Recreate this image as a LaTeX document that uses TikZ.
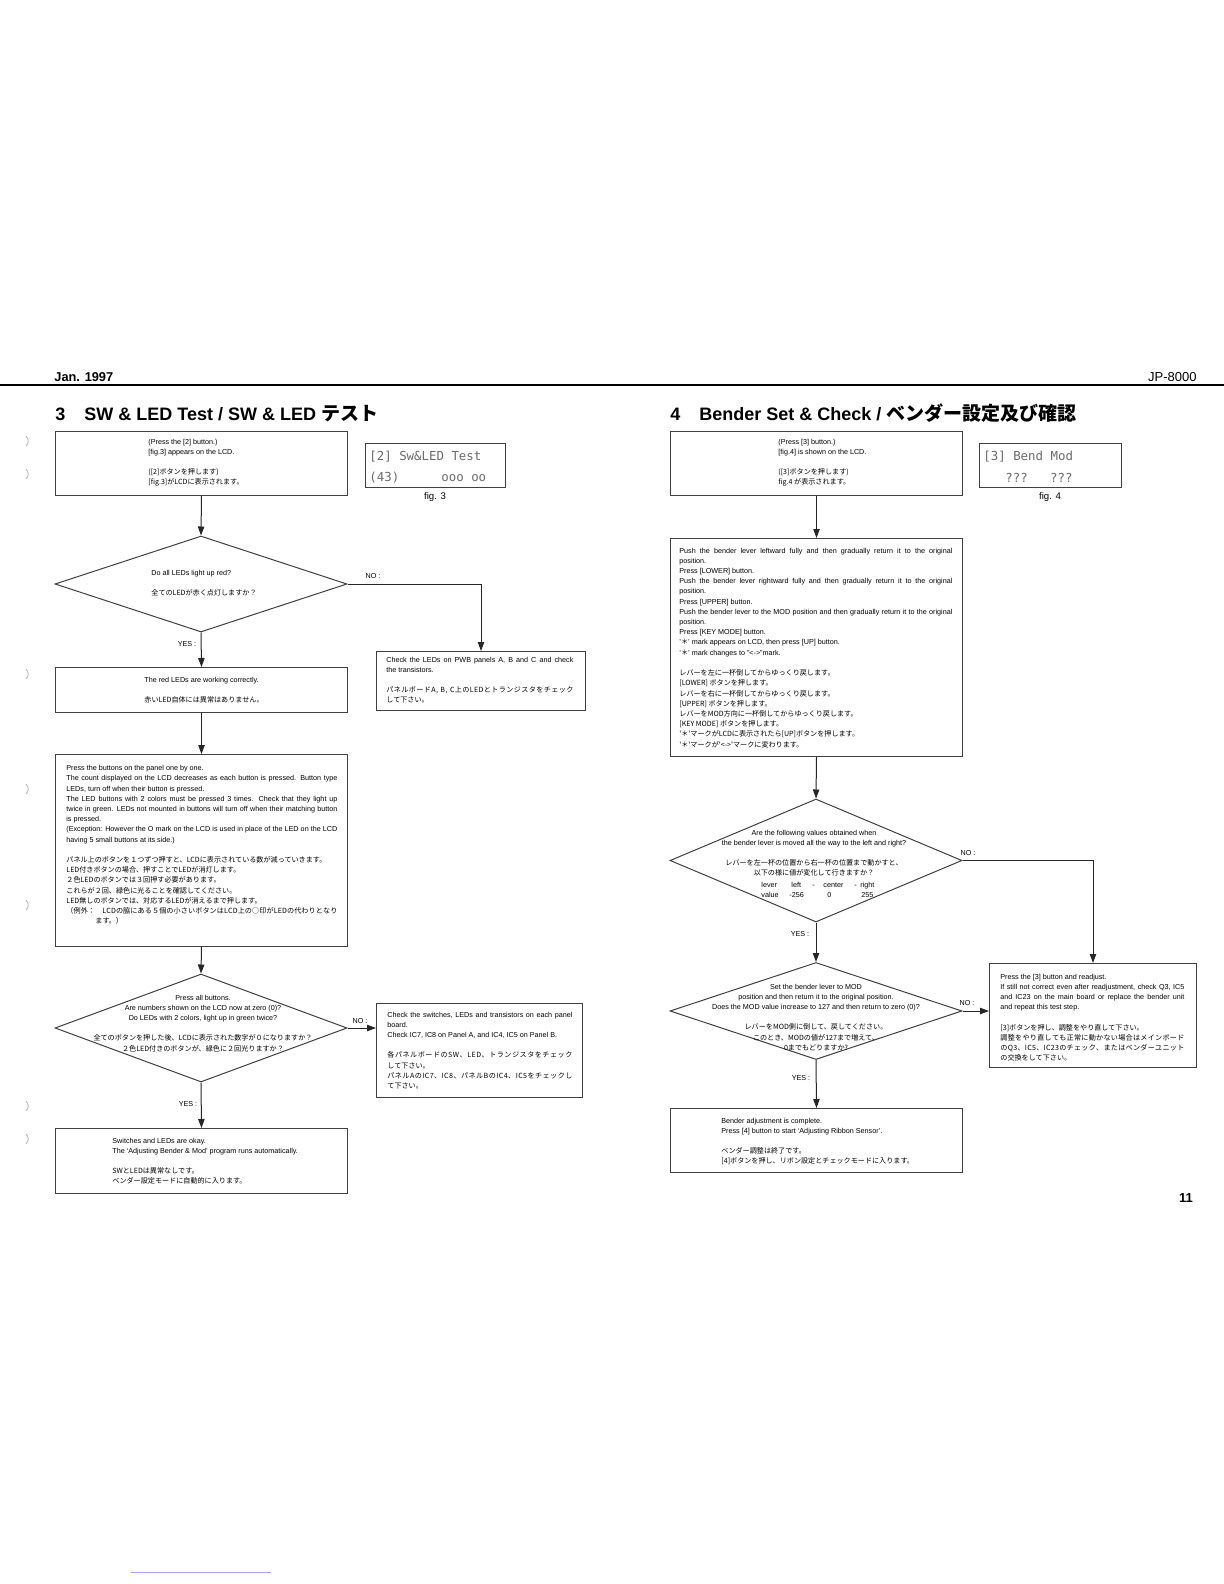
\documentclass[tikz,border=0pt]{standalone}
\usepackage{fontspec}
\setmainfont{Liberation Sans}
\newfontfamily\jp{Noto Sans CJK JP}
\newfontfamily\lcdfont{DejaVu Sans Mono}
\usetikzlibrary{arrows.meta,shapes.geometric}
\newcommand\enf{\fontsize{3.6}{5.1}\selectfont}
\newcommand\jpf{\jp\fontsize{3.55}{5.1}\selectfont}
\newcommand\rs{\spaceskip=0pt\xspaceskip=0pt\relax}
\newcommand\tw{100pt}
\newcommand\jl[1]{\makebox[\tw][s]{#1}}
\makeatletter
\newcommand\jj[1]{\makebox[\tw][s]{\@tfor\jjtok:=#1\do{\jjtok\hskip0pt plus 1pt}\unskip}}
\makeatother
\newcommand\atx[2]{\rlap{\hspace*{#1}#2}}
\begin{document}
\begin{tikzpicture}[x=0.5pt,y=-0.5pt,
  bx/.style={draw=black!75,line width=0.5pt,inner sep=0pt,anchor=north west},
  dm/.style={draw=black!75,line width=0.5pt,diamond,inner sep=0pt,minimum width=146pt},
  con/.style={draw=black!85,line width=0.5pt},
  arr/.style={con,-{Triangle[length=4.5pt,width=3.2pt]}},
  tb/.style={inner sep=0pt,anchor=north west,align=left,font=\enf},
  tc/.style={inner sep=0pt,anchor=north,align=center,font=\enf},
  lb/.style={inner sep=0pt,font=\enf},
  lcd/.style={inner sep=0pt,anchor=west,font=\lcdfont\fontsize{6.2}{7}\selectfont,text=black!58},
  figl/.style={inner sep=0pt,font=\fontsize{4.8}{5}\selectfont},
  ttl/.style={inner sep=0pt,anchor=base west,font=\bfseries\fontsize{9}{10}\selectfont},
  art/.style={draw=black!30,line width=0.4pt}
]
\useasboundingbox (0,0) rectangle (1224,1584);
\fill[white] (0,0) rectangle (1224,1584);

% header
\node[inner sep=0pt,anchor=base west,font=\bfseries\fontsize{6.4}{7}\selectfont] (hdate) at (54,381) {Jan. 1997};
\node[inner sep=0pt,anchor=base east,font=\fontsize{6.5}{7}\selectfont] (hmodel) at (1197,381) {JP-8000};
\draw[line width=1pt] (0,385) -- (1224,385);

% titles
\node[ttl] (t3n) at (55,420) {3};
\node[ttl] (t3) at (84,420) {SW \& LED Test / SW \& LED {\jp\fontsize{9.5}{10}\selectfont テスト}};
\node[ttl] (t4n) at (670,420) {4};
\node[ttl] (t4) at (699,420) {Bender Set \& Check / {\jp\fontsize{9.5}{10}\selectfont ベンダー設定及び確認}};

% ---------------- left column ----------------
\node[bx,minimum width=146pt,minimum height=32pt] (b1) at (55,431) {};
\node[tb] (b1t) at (148,438.5) {\rs (Press the [2] button.)\\ {[fig.3] appears on the LCD.}\\[5.1pt]
  {\jpf ([2]ボタンを押します)}\\ {\jpf [fig.3]がLCDに表示されます。}};

\node[bx,minimum width=70pt,minimum height=22pt] (lcd3) at (365,443) {};
\node[lcd] (lcd3a) at (369,457) {[2] Sw\&LED Test};
\node[lcd] (lcd3b) at (369,478) {(43)};
\node[lcd] (lcd3c) at (441,478) {ooo oo};
\node[figl] (fig3) at (435,497) {fig. 3};

\node[dm,minimum height=48pt] (d1) at (201,584) {};
\node[tb] (d1t) at (151,569.5) {\rs Do all LEDs light up red?\\[5.1pt] {\jpf 全てのLEDが赤く点灯しますか？}};

\node[bx,minimum width=104.5pt,minimum height=29.5pt] (bA) at (376,651) {};
\node[tb,text width=93.5pt] (bAt) at (386,656.5) {\rs\renewcommand\tw{93.5pt}%
  \jl{Check the LEDs on PWB panels A, B and C and check}\\ the transistors.\\[5.1pt]
  {\jpf\jj{パネルボードA,~B,~C上のLEDとトランジスタをチェック}}\\ {\jpf して下さい。}};

\node[bx,minimum width=146pt,minimum height=22.5pt] (b2) at (55,667) {};
\node[tb] (b2t) at (144,676.5) {\rs The red LEDs are working correctly.\\[5.1pt] {\jpf 赤いLED自体には異常はありません。}};

\node[bx,minimum width=146pt,minimum height=96pt] (b3) at (55,754) {};
\node[tb,text width=135.5pt] (b3t) at (66,765) {\rs\renewcommand\tw{135.5pt}%
Press the buttons on the panel one by one.\\
\jl{The count displayed on the LCD decreases as each button is pressed. Button type}\\
LEDs, turn off when their button is pressed.\\
\jl{The LED buttons with 2 colors must be pressed 3 times. Check that they light up}\\
\jl{twice in green. LEDs not mounted in buttons will turn off when their matching button}\\
is pressed.\\
\jl{(Exception: However the O mark on the LCD is used in place of the LED on the LCD}\\
having 5 small buttons at its side.)\\[5.1pt]
{\jpf パネル上のボタンを１つずつ押すと、LCDに表示されている数が減っていきます。}\\
{\jpf LED付きボタンの場合、押すことでLEDが消灯します。}\\
{\jpf ２色LEDのボタンでは３回押す必要があります。}\\
{\jpf これらが２回、緑色に光ることを確認してください。}\\
{\jpf LED無しのボタンでは、対応するLEDが消えるまで押します。}\\
{\jpf\jj{（例外：　LCDの脇にある５個の小さいボタンはLCD上の○印がLEDの代わりとなり}}\\
{\jpf\hspace*{14.5pt}ます。）}};

\node[dm,minimum height=54pt] (d2) at (201,1028) {};
\node[tc] (d2t) at (203,994.5) {\rs Press all buttons.\\ Are numbers shown on the LCD now at zero (0)?\\ Do LEDs with 2 colors, light up in green twice?\\[5.1pt]
  {\jpf 全てのボタンを押した後、LCDに表示された数字が０になりますか？}\\ {\jpf ２色LED付きのボタンが、緑色に２回光りますか？}};

\node[bx,minimum width=103pt,minimum height=47pt] (bB) at (376,1003) {};
\node[tb,text width=92.5pt] (bBt) at (387,1011.5) {\rs\renewcommand\tw{92.5pt}%
  \jl{Check the switches, LEDs and transistors on each panel}\\ board.\\ Check IC7, IC8 on Panel A, and IC4, IC5 on Panel B.\\[5.1pt]
  {\jpf\jj{各パネルボードのSW、LED、トランジスタをチェック}}\\ {\jpf して下さい。}\\
  {\jpf\jj{パネルAのIC7、IC8、パネルBのIC4、IC5をチェックし}}\\ {\jpf て下さい。}};

\node[bx,minimum width=146pt,minimum height=32.5pt] (b4) at (55,1128) {};
\node[tb] (b4t) at (112,1137.5) {\rs Switches and LEDs are okay.\\ The `Adjusting Bender \& Mod' program runs automatically.\\[5.1pt]
  {\jpf SWとLEDは異常なしです。}\\ {\jpf ベンダー設定モードに自動的に入ります。}};

% left connectors
\draw[arr] (b1.south) -- (d1.north);
\draw[arr] (d1.east) -| (bA.north);
\draw[arr] (d1.south) -- (b2.north);
\draw[arr] (b2.south) -- (b3.north);
\draw[arr] (b3.south) -- (d2.north);
\draw[arr] (d2.east) -- (d2.east -| bB.west);
\draw[arr] (d2.south) -- (b4.north);
\node[lb] (no1) at (373,576) {NO :};
\node[lb] (yes1) at (187,644) {YES :};
\node[lb] (no2) at (360,1021) {NO :};
\node[lb] (yes2) at (188,1104) {YES :};

% ---------------- right column ----------------
\node[bx,minimum width=146pt,minimum height=32pt] (r1) at (670,431) {};
\node[tb] (r1t) at (778,438.5) {\rs (Press [3] button.)\\ {[fig.4] is shown on the LCD.}\\[5.1pt]
  {\jpf ([3]ボタンを押します)}\\ {\jpf fig.4 が表示されます。}};

\node[bx,minimum width=71pt,minimum height=22pt] (lcd4) at (979,443) {};
\node[lcd] (lcd4a) at (983,457) {[3] Bend Mod};
\node[lcd] (lcd4b) at (1005,478) {???~~~???};
\node[figl] (fig4) at (1050,497) {fig. 4};

\node[bx,minimum width=146pt,minimum height=109pt] (r2) at (670,538) {};
\node[tb,text width=136.5pt] (r2t) at (679,547.5) {\rs\renewcommand\tw{136.5pt}%
\jl{Push the bender lever leftward fully and then gradually return it to the original}\\
position.\\
Press [LOWER] button.\\
\jl{Push the bender lever rightward fully and then gradually return it to the original}\\
position.\\
Press [UPPER] button.\\
\jl{Push the bender lever to the MOD position and then gradually return it to the original}\\
position.\\
Press [KEY MODE] button.\\
'{\jp ＊}' mark appears on LCD, then press [UP] button.\\
'{\jp ＊}' mark changes to "<->"mark.\\[5.2pt]
{\jpf レバーを左に一杯倒してからゆっくり戻します。}\\
{\jpf [LOWER] ボタンを押します。}\\
{\jpf レバーを右に一杯倒してからゆっくり戻します。}\\
{\jpf [UPPER] ボタンを押します。}\\
{\jpf レバーをMOD方向に一杯倒してからゆっくり戻します。}\\
{\jpf [KEY MODE] ボタンを押します。}\\
{\jpf '＊'マークがLCDに表示されたら[UP]ボタンを押します。}\\
{\jpf '＊'マークが'<->'マークに変わります。}};

\node[dm,minimum height=61.5pt] (d3) at (816,860.5) {};
\node[tc] (d3t) at (814,829.5) {\rs Are the following values obtained when\\ the bender lever is moved all the way to the left and right?\\[5.1pt]
  {\jpf レバーを左一杯の位置から右一杯の位置まで動かすと、}\\ {\jpf 以下の様に値が変化して行きますか？}};
\node[lb,anchor=base west] (d3r1) at (760,887.5) {\atx{0pt}{lever}\atx{15pt}{left}\atx{25.5pt}{-}\atx{31pt}{center}\atx{46.5pt}{-}\atx{49.5pt}{right}};
\node[lb,anchor=base west] (d3r2) at (760,897.5) {\atx{0pt}{value}\atx{14pt}{-256}\atx{33pt}{0}\atx{50pt}{255}};

\node[bx,minimum width=103.5pt,minimum height=52pt] (r3) at (989,963) {};
\node[tb,text width=92pt] (r3t) at (1000,973.5) {\rs\renewcommand\tw{92pt}%
Press the [3] button and readjust.\\
\jl{If still not correct even after readjustment, check Q3, IC5}\\
\jl{and IC23 on the main board or replace the bender unit}\\
and repeat this test step.\\[5.1pt]
{\jpf [3]ボタンを押し、調整をやり直して下さい。}\\
{\jpf\jj{調整をやり直しても正常に動かない場合はメインボード}}\\
{\jpf\jj{のQ3、IC5、IC23のチェック、またはベンダーユニット}}\\
{\jpf の交換をして下さい。}};

\node[dm,minimum height=48.5pt] (d4) at (816,1011) {};
\node[tc] (d4t) at (816,983.5) {\rs Set the bender lever to MOD\\ position and then return it to the original position.\\ Does the MOD value increase to 127 and then return to zero (0)?\\[5.1pt]
  {\jpf レバーをMOD側に倒して、戻してください。}\\ {\jpf このとき、MODの値が127まで増えて、}\\ {\jpf 0までもどりますか?}};

\node[bx,minimum width=146pt,minimum height=32pt] (r4) at (670,1108) {};
\node[tb] (r4t) at (721,1117.5) {\rs Bender adjustment is complete.\\ Press [4] button to start `Adjusting Ribbon Sensor'.\\[5.1pt]
  {\jpf ベンダー調整は終了です。}\\ {\jpf [4]ボタンを押し、リボン設定とチェックモードに入ります。}};

% right connectors
\draw[arr] (r1.south) -- (r2.north);
\draw[arr] (r2.south) -- (d3.north);
\draw[arr] (d3.east) -| (r3.north);
\draw[arr] (d3.south) -- (d4.north);
\draw[arr] (d4.east) -- (d4.east -| r3.west);
\draw[arr] (d4.south) -- (r4.north);
\node[lb] (no3) at (968,853) {NO :};
\node[lb] (yes3) at (800,934) {YES :};
\node[lb] (no4) at (967,1003) {NO :};
\node[lb] (yes4) at (801,1078) {YES :};

% page number
\node[inner sep=0pt,font=\bfseries\fontsize{6.5}{7}\selectfont] (pgno) at (1186,1198) {11};

% scan artefacts
\foreach \yy in {441,474,674,789,905,1106,1139}
  \draw[art] (26,\yy-5) .. controls (29,\yy-2) and (29,\yy+2) .. (26,\yy+5);
\draw[draw=blue!35,line width=0.4pt] (131,1572) -- (271,1572);
\end{tikzpicture}
\end{document}
